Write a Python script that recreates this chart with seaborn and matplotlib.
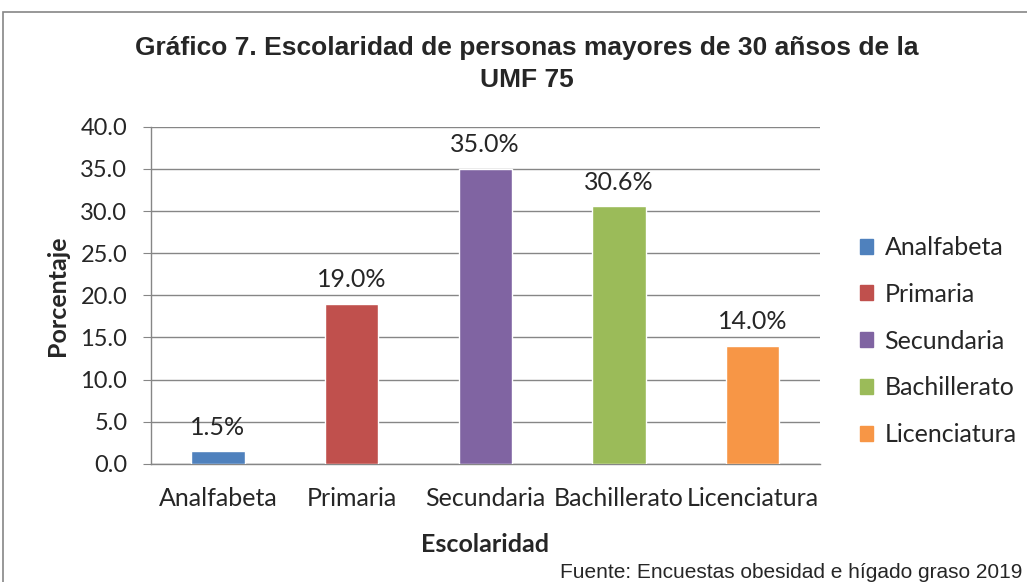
import matplotlib
matplotlib.use("Agg")
import matplotlib.pyplot as plt
import matplotlib.patches as mpatches
import seaborn as sns

# data
categories = ["Analfabeta", "Primaria", "Secundaria", "Bachillerato", "Licenciatura"]
values = [1.5, 19.0, 35.0, 30.6, 14.0]
colors = ["#4F81BD", "#C0504D", "#8064A2", "#9BBB59", "#F79646"]
yticks = [0, 5, 10, 15, 20, 25, 30, 35, 40]

sns.set_style("white")
plt.rcParams["font.family"] = ["Lato", "DejaVu Sans"]

fig = plt.figure(figsize=(10.27, 5.82), dpi=100)
ax = fig.add_axes([0.147, 0.203, 0.651, 0.579])

sns.barplot(x=categories, y=values, hue=categories, palette=colors,
            width=0.4, dodge=False, saturation=1, legend=False, ax=ax, zorder=3)

ax.set_ylim(0, 40)
ax.set_yticks(yticks)
ax.set_yticklabels([f"{t:.1f}" for t in yticks], fontsize=17)
ax.tick_params(axis="x", labelsize=18, length=0, pad=17)
ax.tick_params(axis="y", length=6, color="#868686", direction="out", pad=11, left=True)
ax.yaxis.grid(True, color="#868686", lw=1, zorder=0)
ax.set_axisbelow(True)
for s in ["top", "right"]:
    ax.spines[s].set_visible(False)
for s in ["left", "bottom"]:
    ax.spines[s].set_color("#868686")
    ax.spines[s].set_linewidth(1)

for i, v in enumerate(values):
    ax.annotate(f"{v:.1f}%", (i, v), xytext=(0, 9), textcoords="offset points",
                ha="center", va="bottom", fontsize=18)

ax.set_ylabel("Porcentaje", fontsize=18, fontweight="bold", labelpad=8)
ax.set_xlabel("Escolaridad", fontsize=18, fontweight="bold", labelpad=16)

handles = [mpatches.Patch(color=c, label=l) for c, l in zip(colors, categories)]
fig.legend(handles=handles, loc="center left", bbox_to_anchor=(0.815, 0.414),
           frameon=False, fontsize=18, handlelength=0.55, handleheight=0.55,
           handletextpad=0.45, labelspacing=0.95)

fig.text(0.513, 0.917, "Gráfico 7. Escolaridad de personas mayores de 30 añsos de la",
         ha="center", va="center", fontsize=19, fontweight="bold", family="Liberation Sans")
fig.text(0.513, 0.862, "UMF 75", ha="center", va="center", fontsize=19,
         fontweight="bold", family="Liberation Sans")
fig.text(0.545, 0.017, "Fuente: Encuestas obesidad e hígado graso 2019",
         ha="left", va="center", fontsize=15, family="Liberation Sans")

fig.patches.append(mpatches.Rectangle((3 / 1027, -0.1), 1.1, 1.1 - 12 / 582,
                                      transform=fig.transFigure, fill=False,
                                      edgecolor="#868686", lw=1.2))

fig.savefig("out.png", dpi=100)
